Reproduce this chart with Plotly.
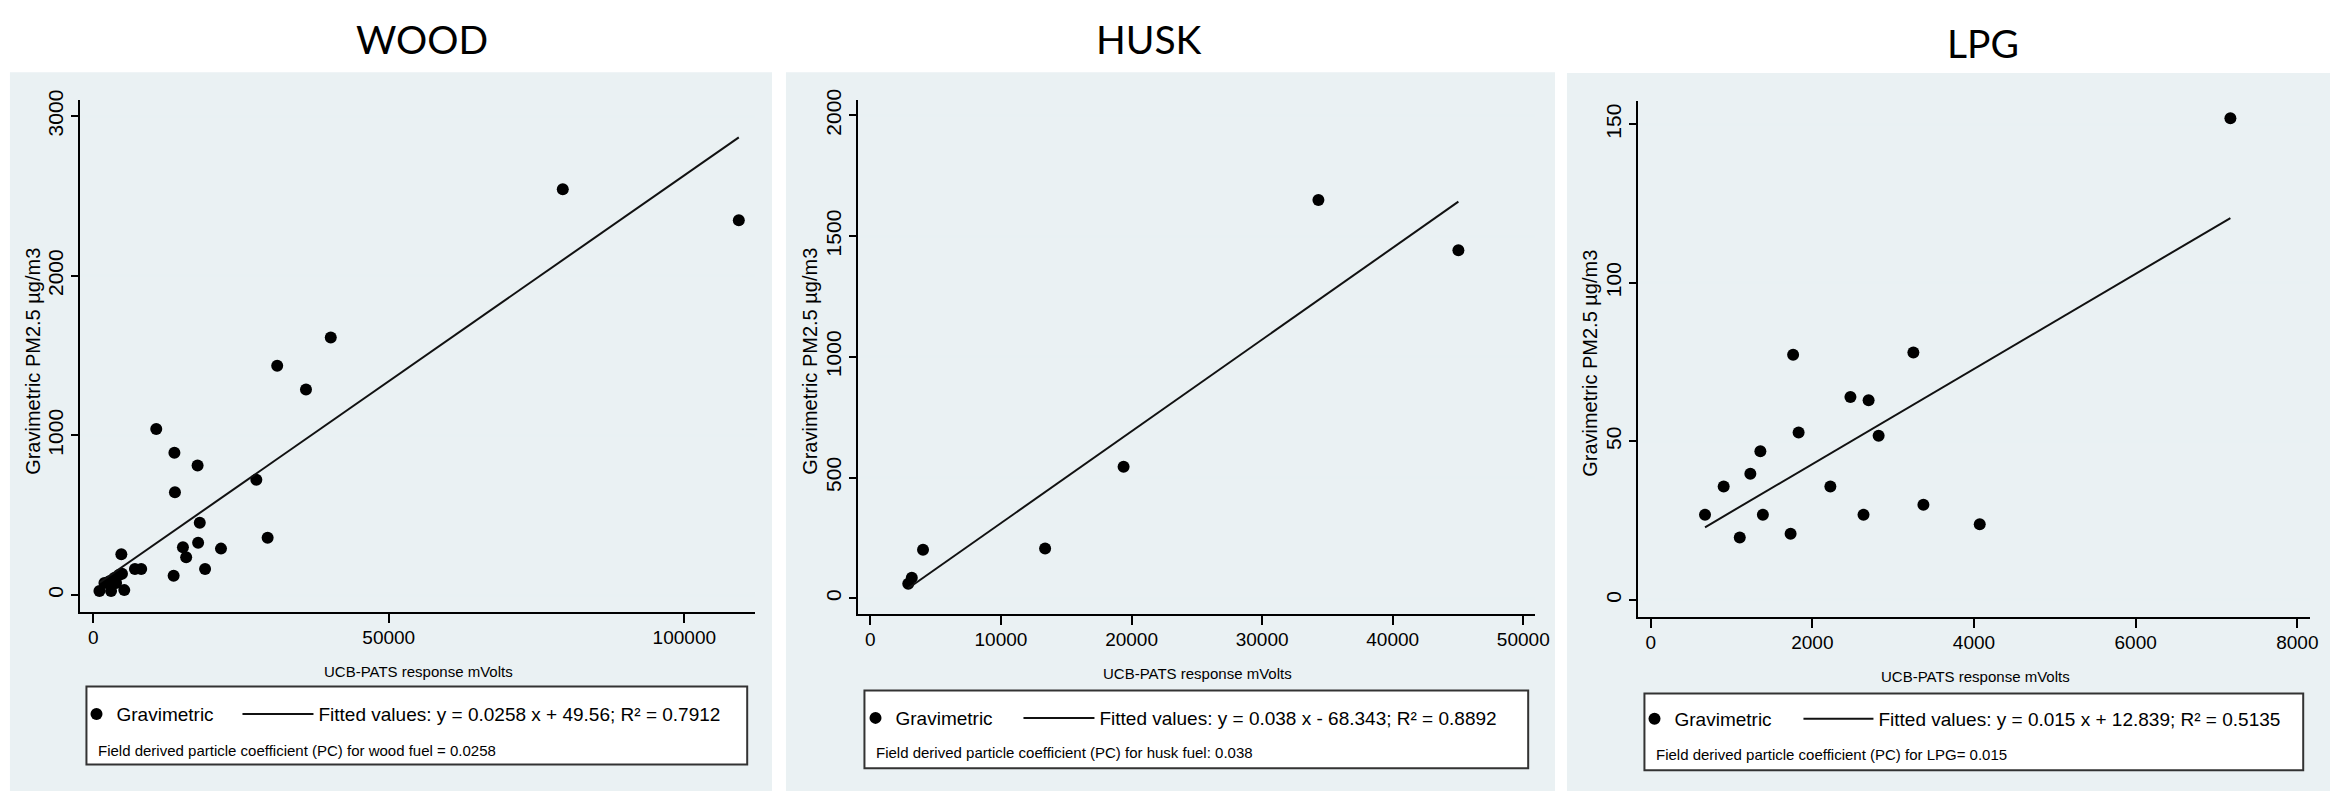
import plotly.graph_objects as go

W, H = 2351, 791

# ---------------- data ----------------
titles = ["WOOD", "HUSK", "LPG"]

wood_x = [1060, 1900, 2740, 3020, 3580, 3870, 4420, 4870, 5260, 4760, 7060, 8120,
          10670, 13610, 13740, 13830, 15180, 15730, 17660, 17750, 18030, 18930,
          21620, 27600, 29510, 31130, 36000, 40190, 79440, 109220]
wood_y = [25, 76, 87, 25, 107, 76, 128, 134, 31, 256, 163, 163,
          1041, 121, 891, 644, 299, 237, 812, 328, 453, 163,
          291, 722, 359, 1436, 1288, 1613, 2543, 2348]

husk_x = [2900, 3170, 4030, 13380, 19390, 34310, 45030]
husk_y = [60, 85, 201, 206, 545, 1650, 1442]

lpg_x = [672, 903, 1102, 1233, 1357, 1388, 1731, 1762, 1830, 2223, 2471, 2633,
         2696, 2820, 3250, 3374, 4071, 7172]
lpg_y = [26.9, 35.8, 19.7, 39.8, 46.9, 26.9, 20.9, 77.3, 52.8, 35.8, 64.0, 26.9,
         63.0, 51.8, 78.0, 30.0, 23.9, 151.9]

fit_slopes = [0.0258, 0.038, 0.015]
fit_intercepts = [49.56, -68.343, 12.839]
fit_labels = ["Fitted values: y = 0.0258 x + 49.56; R² = 0.7912",
              "Fitted values: y = 0.038 x - 68.343; R² = 0.8892",
              "Fitted values: y = 0.015 x + 12.839; R² = 0.5135"]
notes = ["Field derived particle coefficient (PC) for wood fuel = 0.0258",
         "Field derived particle coefficient (PC) for husk fuel: 0.038",
         "Field derived particle coefficient (PC) for LPG= 0.015"]

wood_xticks = [0, 50000, 100000]
wood_yticks = [0, 1000, 2000, 3000]
husk_xticks = [0, 10000, 20000, 30000, 40000, 50000]
husk_yticks = [0, 500, 1000, 1500, 2000]
lpg_xticks = [0, 2000, 4000, 6000, 8000]
lpg_yticks = [0, 50, 100, 150]

x_title = "UCB-PATS response mVolts"
y_title = "Gravimetric PM2.5 µg/m3"
point_name = "Gravimetric"

# ---------------- layout geometry (pixels) ----------------
panels = [
    dict(bg=(10, 62, 777, 791), plot=(81, 90, 759.5, 609.3),
         xr=[-2150, 111900], yr=[-105, 3103], title=(425, 28),
         ytitle=(33, 355), xtitle=(421, 670),
         legbox=(87, 685, 752, 764), mk=(95, 713), line=(242, 313), note=(97, 750)),
    dict(bg=(791, 62, 1565, 791), plot=(863.5, 90, 1544.5, 612),
         xr=[-950, 50870], yr=[-67, 2065], title=(1156, 28),
         ytitle=(815, 355), xtitle=(1205, 672),
         legbox=(870, 689, 1538, 768), mk=(879, 717), line=(1028, 1099), note=(880, 752)),
    dict(bg=(1577, 63, 2345, 791), plot=(1648.6, 91.7, 2324.6, 614.3),
         xr=[-156, 8154], yr=[-5.3, 157.2], title=(1996, 32),
         ytitle=(1600, 357), xtitle=(1988, 675),
         legbox=(1655, 692, 2318, 770), mk=(1663, 718), line=(1813, 1883), note=(1665, 754)),
]

xs = [wood_x, husk_x, lpg_x]
ys = [wood_y, husk_y, lpg_y]
xticks = [wood_xticks, husk_xticks, lpg_xticks]
yticks = [wood_yticks, husk_yticks, lpg_yticks]


def px(x):
    return x / W


def py(y):
    return 1 - y / H


REG = "Liberation Sans, Arial, sans-serif"
TITLEF = "Lato, Open Sans, sans-serif"
GRID = "#e9f1f3"
BG = "#eaf1f3"

fig = go.Figure()
shapes = []
annotations = []
layout = dict(width=W, height=H, margin=dict(l=0, r=0, t=0, b=0),
              paper_bgcolor="white", plot_bgcolor="white", showlegend=True)

for i, p in enumerate(panels):
    n = i + 1
    xa = "x" if n == 1 else f"x{n}"
    ya = "y" if n == 1 else f"y{n}"
    leg_pts = "legend" if n == 1 else f"legend{2 * n - 1}"
    leg_fit = f"legend{2 * n}"

    x0, y0, x1, y1 = p["plot"]
    layout["xaxis" if n == 1 else f"xaxis{n}"] = dict(
        domain=[px(x0), px(x1)], anchor=ya, range=p["xr"],
        tickvals=xticks[i], ticktext=[str(v) for v in xticks[i]],
        showline=True, linecolor="black", linewidth=2, mirror=False,
        ticks="outside", ticklen=9, tickwidth=2, tickcolor="black",
        showgrid=False, zeroline=False, ticklabelstandoff=-2,
        tickfont=dict(family=REG, size=19, color="black"),
    )
    layout["yaxis" if n == 1 else f"yaxis{n}"] = dict(
        domain=[py(y1), py(y0)], anchor=xa, range=p["yr"],
        tickvals=yticks[i], ticktext=[str(v) for v in yticks[i]],
        tickangle=-90,
        showline=True, linecolor="black", linewidth=2,
        ticks="outside", ticklen=7, tickwidth=2, tickcolor="black",
        showgrid=True, gridcolor=GRID, gridwidth=3, zeroline=False,
        ticklabelstandoff=0,
        tickfont=dict(family=REG, size=21, color="black"),
    )

    # panel background
    bx0, by0, bx1, by1 = p["bg"]
    shapes.append(dict(type="rect", xref="paper", yref="paper", layer="below",
                       x0=px(bx0), x1=px(bx1), y0=py(by1), y1=py(by0),
                       fillcolor=BG, line=dict(width=0)))
    # legend box
    lx0, ly0, lx1, ly1 = p["legbox"]
    shapes.append(dict(type="rect", xref="paper", yref="paper", layer="below",
                       x0=px(lx0), x1=px(lx1), y0=py(ly1), y1=py(ly0),
                       fillcolor="white", line=dict(color="#333333", width=2)))

    # panel title
    tx, ty = p["title"]
    annotations.append(dict(text=titles[i], xref="paper", yref="paper",
                            x=px(tx), y=py(ty), xanchor="center", yanchor="middle",
                            showarrow=False,
                            font=dict(family=TITLEF, size=39, color="black")))
    # axis titles
    yx, yy = p["ytitle"]
    annotations.append(dict(text=y_title, xref="paper", yref="paper",
                            x=px(yx), y=py(yy), xanchor="center", yanchor="middle",
                            textangle=-90, showarrow=False,
                            font=dict(family=REG, size=20, color="black")))
    xx, xy = p["xtitle"]
    annotations.append(dict(text=x_title, xref="paper", yref="paper",
                            x=px(xx), y=py(xy), xanchor="center", yanchor="middle",
                            showarrow=False,
                            font=dict(family=REG, size=15, color="black")))
    # note line in legend box
    nx, ny = p["note"]
    annotations.append(dict(text=notes[i], xref="paper", yref="paper",
                            x=px(nx), y=py(ny), xanchor="left", yanchor="middle",
                            showarrow=False,
                            font=dict(family=REG, size=15, color="black")))

    # data points
    fig.add_trace(go.Scatter(x=xs[i], y=ys[i], mode="markers", name=point_name,
                             xaxis=xa, yaxis=ya, legend=leg_pts,
                             marker=dict(color="black", size=12)))
    # fitted line (from published coefficients, over the observed x range)
    xmin, xmax = min(xs[i]), max(xs[i])
    fx = [xmin, xmax]
    fy = [fit_slopes[i] * v + fit_intercepts[i] for v in fx]
    fig.add_trace(go.Scatter(x=fx, y=fy, mode="lines", name=fit_labels[i],
                             xaxis=xa, yaxis=ya, legend=leg_fit,
                             line=dict(color="#111111", width=2)))

    mx, my = p["mk"]
    layout[leg_pts] = dict(x=px(mx - 18), y=py(my), xanchor="left", yanchor="middle",
                           orientation="h", bgcolor="rgba(0,0,0,0)", borderwidth=0,
                           itemwidth=30, itemclick=False,
                           font=dict(family=REG, size=19, color="black"))
    lx_a, lx_b = p["line"]
    layout[leg_fit] = dict(x=px(lx_a - 3), y=py(my), xanchor="left", yanchor="middle",
                           orientation="h", bgcolor="rgba(0,0,0,0)", borderwidth=0,
                           itemwidth=lx_b - lx_a, itemclick=False,
                           font=dict(family=REG, size=19, color="black"))

layout["shapes"] = shapes
layout["annotations"] = annotations
fig.update_layout(**layout)
fig.write_html("out.html")
